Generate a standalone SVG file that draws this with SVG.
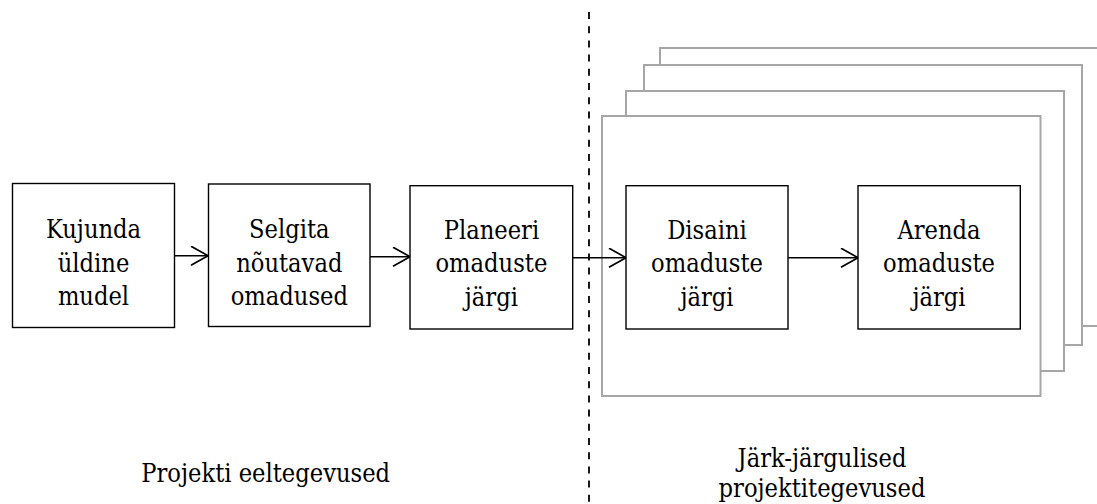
<svg xmlns="http://www.w3.org/2000/svg" width="1097" height="504" viewBox="0 0 1097 504">
  <style>
    .box { fill: #ffffff; stroke: #000000; stroke-width: 1.4; }
    .frame { fill: #ffffff; stroke: #a6a6a6; stroke-width: 2; }
    .lbl { font-family: "DejaVu Serif Condensed", "DejaVu Serif", serif; font-stretch: condensed; font-size: 25.2px; fill: #000000; text-anchor: middle; }
    .conn { stroke: #000000; stroke-width: 1.6; fill: none; }
    .divider { stroke: #000000; stroke-width: 1.8; stroke-dasharray: 7 7.2; fill: none; }
  </style>
  <defs>
    <marker id="open-arrow" markerUnits="userSpaceOnUse" markerWidth="22" markerHeight="24" refX="18" refY="10" orient="auto">
      <path d="M1,0.5 L18,10 L1,19.5" fill="none" stroke="#000000" stroke-width="1.7"/>
    </marker>
  </defs>

  <!-- stacked iteration frames, back to front -->
  <g id="iteration-frames">
    <rect class="frame" x="660" y="48" width="460" height="278"/>
    <rect class="frame" x="644" y="65" width="438" height="280"/>
    <rect class="frame" x="626" y="91" width="438" height="280"/>
    <rect class="frame" x="602" y="116" width="438.5" height="280"/>
  </g>

  <!-- phase divider -->
  <line class="divider" x1="589" y1="12" x2="589" y2="504"/>

  <g id="connectors">
    <line class="conn" x1="174" y1="255.7" x2="208" y2="255.7" marker-end="url(#open-arrow)"/>
    <line class="conn" x1="370" y1="256.7" x2="410" y2="256.7" marker-end="url(#open-arrow)"/>
    <line class="conn" x1="573" y1="257.7" x2="626" y2="257.7" marker-end="url(#open-arrow)"/>
    <line class="conn" x1="788" y1="257.7" x2="858" y2="257.7" marker-end="url(#open-arrow)"/>
  </g>

  <g id="node-kujunda">
    <rect class="box" x="12.5" y="183.5" width="162" height="144"/>
    <text class="lbl" x="93.5" y="238">Kujunda</text>
    <text class="lbl" x="93.5" y="271.5">üldine</text>
    <text class="lbl" x="93.5" y="305">mudel</text>
  </g>

  <g id="node-selgita">
    <rect class="box" x="208.5" y="184" width="161.5" height="142.5"/>
    <text class="lbl" x="289.3" y="238">Selgita</text>
    <text class="lbl" x="289.3" y="271.5">nõutavad</text>
    <text class="lbl" x="289.3" y="305">omadused</text>
  </g>

  <g id="node-planeeri">
    <rect class="box" x="410" y="185.7" width="162.7" height="143.3"/>
    <text class="lbl" x="491.4" y="238.5">Planeeri</text>
    <text class="lbl" x="491.4" y="272">omaduste</text>
    <text class="lbl" x="491.4" y="305.5">järgi</text>
  </g>

  <g id="node-disaini">
    <rect class="box" x="626" y="185.7" width="162" height="143.3"/>
    <text class="lbl" x="707" y="238.5">Disaini</text>
    <text class="lbl" x="707" y="272">omaduste</text>
    <text class="lbl" x="707" y="305.5">järgi</text>
  </g>

  <g id="node-arenda">
    <rect class="box" x="858" y="185.7" width="162.3" height="143.3"/>
    <text class="lbl" x="939" y="238.5">Arenda</text>
    <text class="lbl" x="939" y="272">omaduste</text>
    <text class="lbl" x="939" y="305.5">järgi</text>
  </g>

  <!-- phase captions -->
  <g id="caption-pre">
    <text class="lbl" x="265.7" y="482">Projekti eeltegevused</text>
  </g>
  <g id="caption-iterative">
    <text class="lbl" x="822" y="467.3">Järk-järgulised</text>
    <text class="lbl" x="822" y="497.3">projektitegevused</text>
  </g>
</svg>
